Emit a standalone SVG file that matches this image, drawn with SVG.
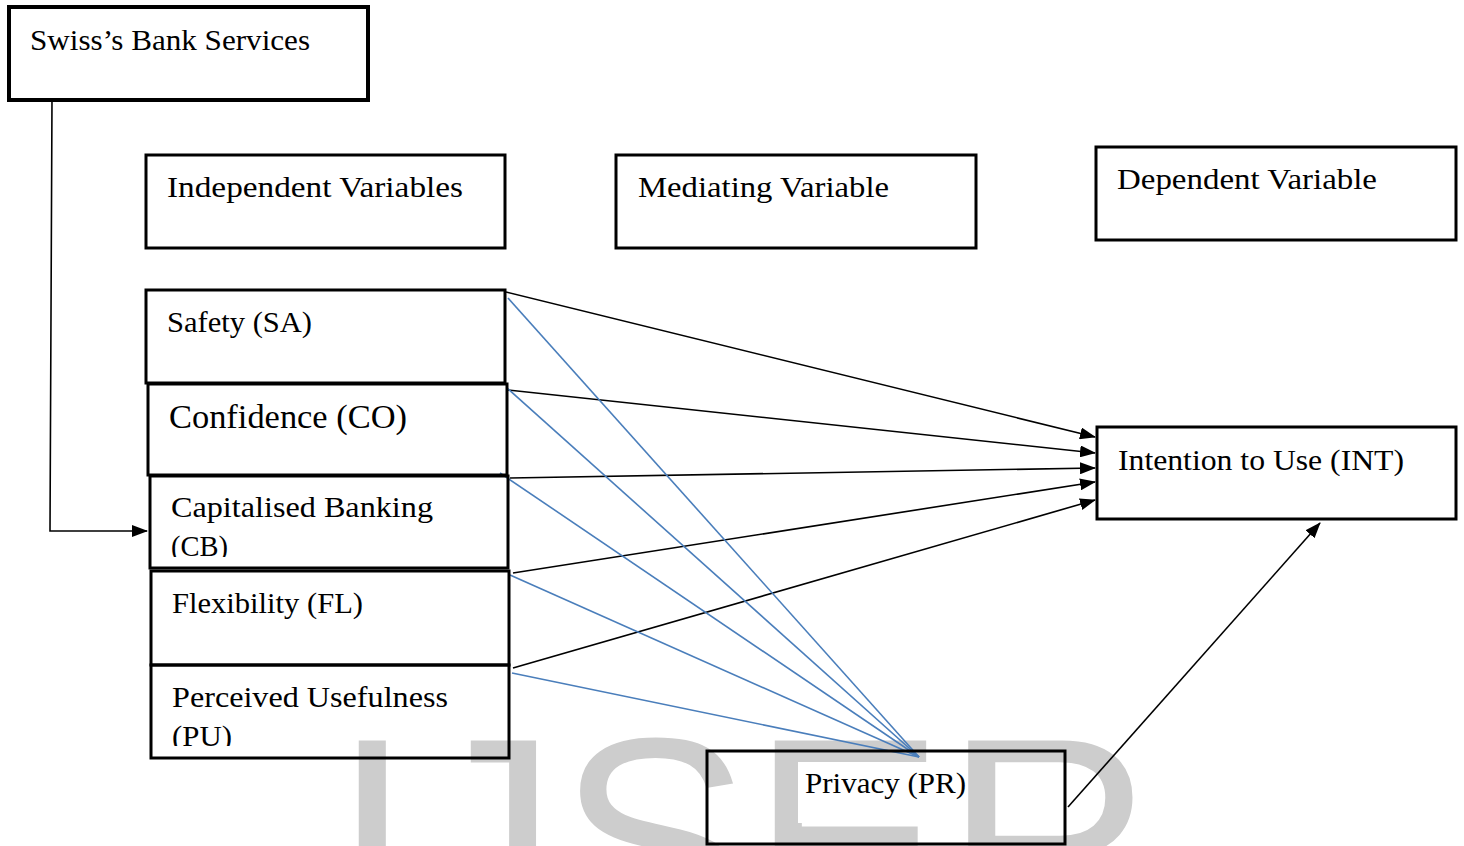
<svg xmlns="http://www.w3.org/2000/svg" width="1464" height="846" viewBox="0 0 1464 846">
  <style>
    .box { fill: none; stroke: #000; stroke-width: 3; }
    .lbl { font-family: "Liberation Serif", "Times New Roman", serif; font-size: 30px; fill: #000; }
    .big { font-size: 34px; }
    .blk { stroke: #000; stroke-width: 1.6; fill: none; }
    .blu { stroke: #4a7ebb; stroke-width: 1.6; fill: none; }
    .wm { font-family: "Liberation Sans", Arial, sans-serif; font-size: 290px; fill: #cdcdcd; }
  </style>
  <defs>
    <marker id="arr" markerWidth="16" markerHeight="12" refX="15" refY="6" orient="auto" markerUnits="userSpaceOnUse">
      <path d="M0,0 L16,6 L0,12 z" fill="#000"/>
    </marker>
    <clipPath id="clipCB"><rect x="150" y="476" width="358" height="81"/></clipPath>
    <clipPath id="clipPU"><rect x="151" y="665" width="358" height="81"/></clipPath>
  </defs>

  <rect width="1464" height="846" fill="#fff"/>

  <!-- background watermark -->
  <text class="wm" x="332" y="940">IJSER</text>

  <!-- connectors -->
  <g id="connectors">
    <polyline class="blk" points="52,98 50,531 147,531" marker-end="url(#arr)"/>
    <!-- paths to Intention to Use -->
    <line class="blk" x1="506" y1="292" x2="1095" y2="437" marker-end="url(#arr)"/>
    <line class="blk" x1="508" y1="390" x2="1095" y2="453" marker-end="url(#arr)"/>
    <line class="blk" x1="510" y1="478" x2="1095" y2="468" marker-end="url(#arr)"/>
    <line class="blk" x1="513" y1="573" x2="1095" y2="482" marker-end="url(#arr)"/>
    <line class="blk" x1="513" y1="668" x2="1095" y2="500" marker-end="url(#arr)"/>
    <line class="blk" x1="1068" y1="807" x2="1320" y2="523" marker-end="url(#arr)"/>
    <!-- paths to Privacy -->
    <line class="blu" x1="508" y1="298" x2="919" y2="757"/>
    <line class="blu" x1="507" y1="388" x2="919" y2="757"/>
    <line class="blu" x1="500" y1="473" x2="919" y2="757"/>
    <line class="blu" x1="510" y1="575" x2="919" y2="757"/>
    <line class="blu" x1="512" y1="673" x2="919" y2="757"/>
  </g>

  <g id="swiss">
    <rect x="9" y="7" width="359" height="93" fill="none" stroke="#000" stroke-width="4"/>
    <text class="lbl" x="30" y="50" textLength="280" lengthAdjust="spacingAndGlyphs">Swiss’s Bank Services</text>
  </g>

  <g id="independent">
    <rect class="box" x="146" y="155" width="359" height="93"/>
    <text class="lbl" x="167" y="197" textLength="296" lengthAdjust="spacingAndGlyphs">Independent Variables</text>
  </g>

  <g id="mediating">
    <rect class="box" x="616" y="155" width="360" height="93"/>
    <text class="lbl" x="638" y="197" textLength="251" lengthAdjust="spacingAndGlyphs">Mediating Variable</text>
  </g>

  <g id="dependent">
    <rect class="box" x="1096" y="147" width="360" height="93"/>
    <text class="lbl" x="1117" y="189" textLength="260" lengthAdjust="spacingAndGlyphs">Dependent Variable</text>
  </g>

  <g id="safety">
    <rect class="box" x="146" y="290" width="359" height="93"/>
    <text class="lbl" x="167" y="332" textLength="145" lengthAdjust="spacingAndGlyphs">Safety (SA)</text>
  </g>

  <g id="confidence">
    <rect class="box" x="148" y="384" width="359" height="91"/>
    <text class="lbl big" x="169" y="428" textLength="238" lengthAdjust="spacingAndGlyphs">Confidence (CO)</text>
  </g>

  <g id="capitalised">
    <rect class="box" x="150" y="476" width="358" height="92"/>
    <g clip-path="url(#clipCB)">
      <text class="lbl" x="171" y="517" textLength="262" lengthAdjust="spacingAndGlyphs">Capitalised Banking</text>
      <text class="lbl" x="171" y="556" textLength="57" lengthAdjust="spacingAndGlyphs">(CB)</text>
    </g>
  </g>

  <g id="flexibility">
    <rect class="box" x="151" y="571" width="358" height="94"/>
    <text class="lbl" x="172" y="613" textLength="191" lengthAdjust="spacingAndGlyphs">Flexibility (FL)</text>
  </g>

  <g id="usefulness">
    <rect class="box" x="151" y="665" width="358" height="93"/>
    <g clip-path="url(#clipPU)">
      <text class="lbl" x="172" y="707" textLength="276" lengthAdjust="spacingAndGlyphs">Perceived Usefulness</text>
      <text class="lbl" x="172" y="746" textLength="60" lengthAdjust="spacingAndGlyphs">(PU)</text>
    </g>
  </g>

  <g id="intention">
    <rect class="box" x="1097" y="427" width="359" height="92"/>
    <text class="lbl" x="1118" y="470" textLength="286" lengthAdjust="spacingAndGlyphs">Intention to Use (INT)</text>
  </g>

  <g id="privacy">
    <rect x="798" y="762" width="164" height="61" fill="#fff"/>
    <rect class="box" x="707" y="751" width="358" height="93"/>
    <text class="lbl" x="805" y="793" textLength="161" lengthAdjust="spacingAndGlyphs">Privacy (PR)</text>
  </g>
</svg>
